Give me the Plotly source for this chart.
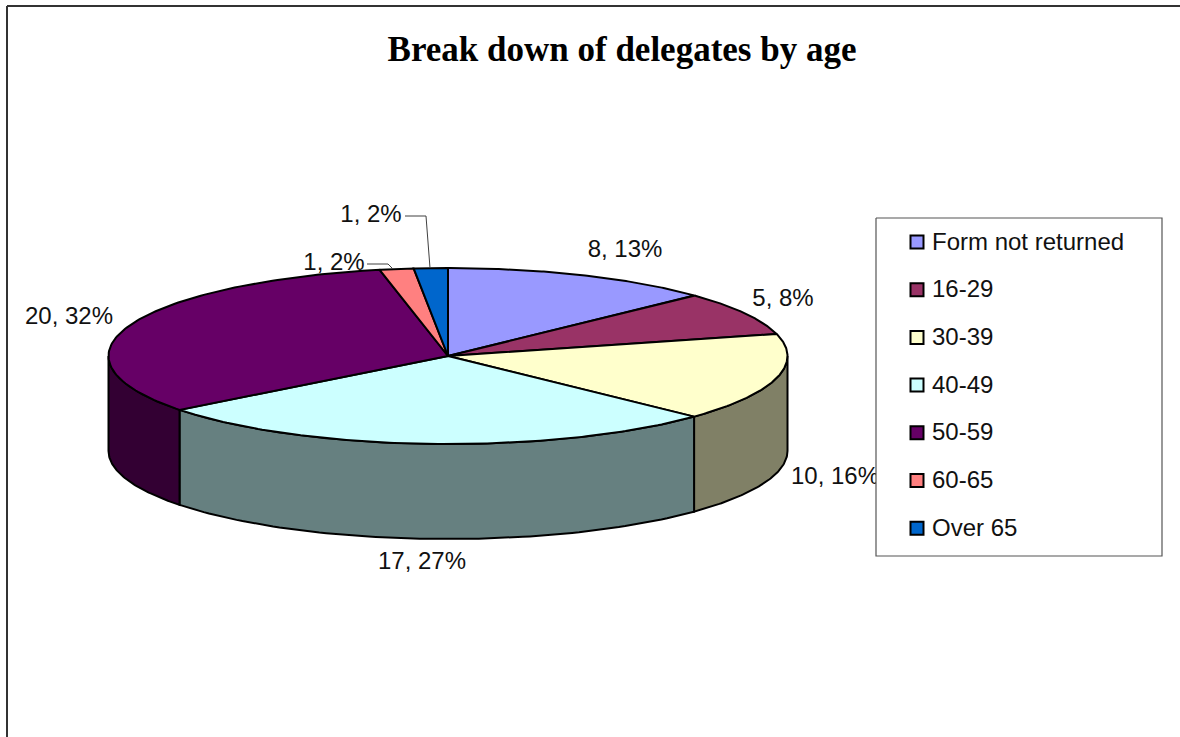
import numpy as np
import plotly.graph_objects as go

categories = ["Form not returned", "16-29", "30-39", "40-49", "50-59", "60-65", "Over 65"]
values = [8, 5, 10, 17, 20, 1, 1]
percents = [13, 8, 16, 27, 32, 2, 2]
top_colors = ["#9999FF", "#993366", "#FFFFCC", "#CCFFFF", "#660066", "#FF8080", "#0066CC"]
side_colors = ["#4D4D80", "#4D1A33", "#808066", "#668080", "#330033", "#804040", "#003366"]
title_text = "Break down of delegates by age"

# label anchor positions (pixel space)
label_x = [625, 783, 835, 422, 69, 334, 371]
label_y = [251, 300, 478, 563, 318, 264, 216]

CX, CY, RX, RY, DEPTH = 448, 356, 339.5, 88, 95
W, H = 1180, 737


def ell(deg):
    a = np.radians(deg)
    return CX + RX * np.sin(a), CY - RY * np.cos(a)


fig = go.Figure()
total = sum(values)
edges = np.concatenate([[0], np.cumsum(values)]) / total * 360
LINE = dict(color="black", width=2)

# side walls: only the front half (90..270 deg) of the rim is visible
for i, cat in enumerate(categories):
    lo, hi = max(edges[i], 90), min(edges[i + 1], 270)
    if hi <= lo:
        continue
    t = np.linspace(lo, hi, 80)
    x, y = ell(t)
    fig.add_trace(go.Scatter(
        x=np.concatenate([x, x[::-1], x[:1]]),
        y=np.concatenate([y, (y + DEPTH)[::-1], y[:1]]),
        mode="lines", fill="toself", fillcolor=side_colors[i],
        line=LINE, name=cat, hoverinfo="skip"))

# top face slices
for i, cat in enumerate(categories):
    t = np.linspace(edges[i], edges[i + 1], 120)
    x, y = ell(t)
    fig.add_trace(go.Scatter(
        x=np.concatenate([[CX], x, [CX]]),
        y=np.concatenate([[CY], y, [CY]]),
        mode="lines", fill="toself", fillcolor=top_colors[i],
        line=LINE, name=cat, hoverinfo="skip"))

# data labels
fig.add_trace(go.Scatter(
    x=label_x, y=label_y, mode="text",
    text=[f"{v}, {p}%" for v, p in zip(values, percents)],
    textposition="middle center",
    textfont=dict(family="Liberation Sans", size=24, color="#111111"),
    hoverinfo="skip"))

# leader lines of the two small slices
leader = dict(color="#404040", width=1)
fig.add_trace(go.Scatter(x=[405, 426, 430], y=[216, 216, 268], mode="lines", line=leader, hoverinfo="skip"))
fig.add_trace(go.Scatter(x=[367, 388, 393], y=[264, 264, 269], mode="lines", line=leader, hoverinfo="skip"))

# legend box
LX0, LX1, LY0, LY1 = 876, 1162, 218, 556
fig.add_trace(go.Scatter(
    x=[LX0, LX1, LX1, LX0, LX0], y=[LY0, LY0, LY1, LY1, LY0],
    mode="lines", fill="toself", fillcolor="white",
    line=dict(color="#555555", width=1.2), hoverinfo="skip"))

rows = 242 + 47.7 * np.arange(len(categories))
fig.add_trace(go.Scatter(
    x=[917] * len(categories), y=rows, mode="markers",
    marker=dict(symbol="square", size=13, color=top_colors,
                line=dict(color="black", width=2)),
    hoverinfo="skip"))
fig.add_trace(go.Scatter(
    x=[932] * len(categories), y=rows + 1.5, mode="text",
    text=categories, textposition="middle right",
    textfont=dict(family="Liberation Sans", size=24, color="#111111"),
    hoverinfo="skip"))

fig.update_layout(
    width=W, height=H, showlegend=False,
    margin=dict(l=0, r=0, t=0, b=0),
    paper_bgcolor="white", plot_bgcolor="white",
    title=dict(text=f"<b>{title_text}</b>", x=622 / W, xanchor="center",
               y=1 - 49 / H, yanchor="middle",
               font=dict(family="Liberation Serif", size=35, color="black")),
    xaxis=dict(range=[0, W], visible=False, fixedrange=True),
    yaxis=dict(range=[H, 0], visible=False, fixedrange=True),
    shapes=[
        dict(type="line", x0=7, x1=W, y0=6, y1=6, line=dict(color="#333333", width=2)),
        dict(type="line", x0=7, x1=7, y0=6, y1=H, line=dict(color="#333333", width=2)),
    ],
)
fig.write_html("out.html", config={"displayModeBar": False},
               post_script="document.body.style.margin='0';document.documentElement.style.overflow='hidden';")
